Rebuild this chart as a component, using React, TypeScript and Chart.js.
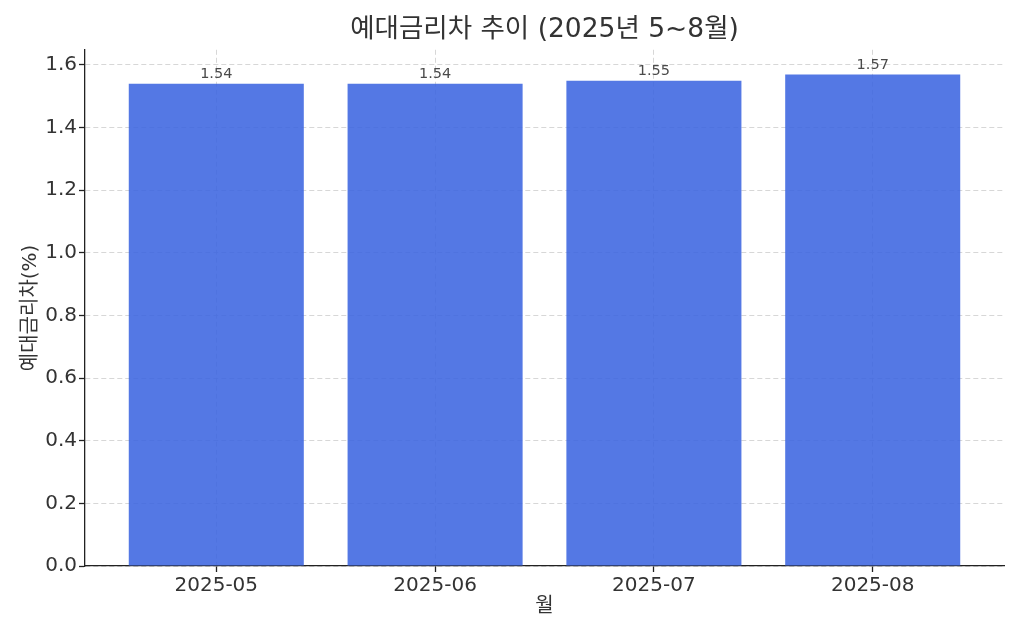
import React, { useEffect, useRef } from "react";
import { Chart, registerables } from "chart.js";

Chart.register(...registerables);

const months: string[] = ["2025-05", "2025-06", "2025-07", "2025-08"];
const spreads: number[] = [1.54, 1.54, 1.55, 1.57];
const chartTitle = "예대금리차 추이 (2025년 5~8월)";
const yTitle = "예대금리차(%)";
const xTitle = "월";

const FONT = "'DejaVu Sans', 'Noto Sans CJK KR', sans-serif";
const TEXT = "#333333";
const GRID = "rgba(176,176,176,0.5)";

const valueLabels = {
  id: "valueLabels",
  afterDraw(chart: any) {
    const ctx = chart.ctx;
    const meta = chart.getDatasetMeta(0);
    ctx.save();
    ctx.font = `14.5px ${FONT}`;
    ctx.fillStyle = "#4a4a4a";
    ctx.textAlign = "center";
    ctx.textBaseline = "bottom";
    meta.data.forEach((bar: any, i: number) => {
      ctx.fillText(spreads[i].toFixed(2), bar.x, bar.y - 2);
    });
    ctx.restore();
  },
};

export default function App() {
  const ref = useRef<HTMLCanvasElement | null>(null);

  useEffect(() => {
    document.body.style.margin = "0";
    const canvas = ref.current;
    if (!canvas) return;
    const yMax = Math.max(...spreads) * 1.05;
    const gridOpts = {
      color: GRID,
      lineWidth: 1,
      offset: false,
      drawTicks: true,
      tickLength: 6,
      tickColor: "#222222",
      tickWidth: 1.3,
      tickBorderDash: [],
    };
    const borderOpts = { display: true, color: "#222222", width: 1.3, dash: [5, 3] };
    const chart = new Chart(canvas, {
      type: "bar",
      data: {
        datasets: [
          {
            data: spreads.map((v, i) => ({ x: i, y: v })),
            backgroundColor: "rgba(65,105,225,0.9)",
            borderWidth: 0,
            barPercentage: 0.8,
            categoryPercentage: 1.0,
          },
        ],
      },
      options: {
        responsive: false,
        animation: false,
        layout: { padding: { left: 0, right: 20, top: 0, bottom: 0 } },
        plugins: {
          legend: { display: false },
          tooltip: { enabled: false },
          title: {
            display: true,
            fullSize: false,
            text: chartTitle,
            color: TEXT,
            font: { family: FONT, size: 26.5, weight: "normal", lineHeight: 1.2 },
            padding: { top: 14, bottom: 4 },
          },
        },
        scales: {
          x: {
            type: "linear",
            min: -0.6,
            max: 3.6,
            offset: false,
            z: 1,
            afterBuildTicks: (scale: any) => {
              scale.ticks = months.map((_, i) => ({ value: i }));
            },
            afterFit: (scale: any) => {
              scale.height = 74;
            },
            ticks: {
              color: TEXT,
              font: { family: FONT, size: 20 },
              padding: 2,
              maxRotation: 0,
              autoSkip: false,
              callback: (v: any) => months[Math.round(Number(v))] ?? "",
            },
            grid: gridOpts,
            border: borderOpts,
            title: {
              display: true,
              text: xTitle,
              color: TEXT,
              font: { family: FONT, size: 20, lineHeight: 1.2 },
              padding: { top: 0, bottom: 21 },
            },
          },
          y: {
            type: "linear",
            min: 0,
            max: yMax,
            z: 1,
            afterFit: (scale: any) => {
              scale.width = 85;
            },
            ticks: {
              stepSize: 0.2,
              includeBounds: false,
              color: TEXT,
              font: { family: FONT, size: 20 },
              padding: 2,
              callback: (v: any) => Number(v).toFixed(1),
            },
            grid: gridOpts,
            border: borderOpts,
            title: {
              display: true,
              text: yTitle,
              color: TEXT,
              font: { family: FONT, size: 20, lineHeight: 1.2 },
              padding: { top: 19, bottom: 0 },
            },
          },
        },
      } as any,
      plugins: [valueLabels],
    });
    return () => chart.destroy();
  }, []);

  return (
    <div style={{ position: "absolute", left: 0, top: 0, width: 1024, height: 640, background: "#fff" }}>
      <canvas ref={ref} width={1024} height={640} style={{ width: 1024, height: 640, display: "block" }} />
    </div>
  );
}
